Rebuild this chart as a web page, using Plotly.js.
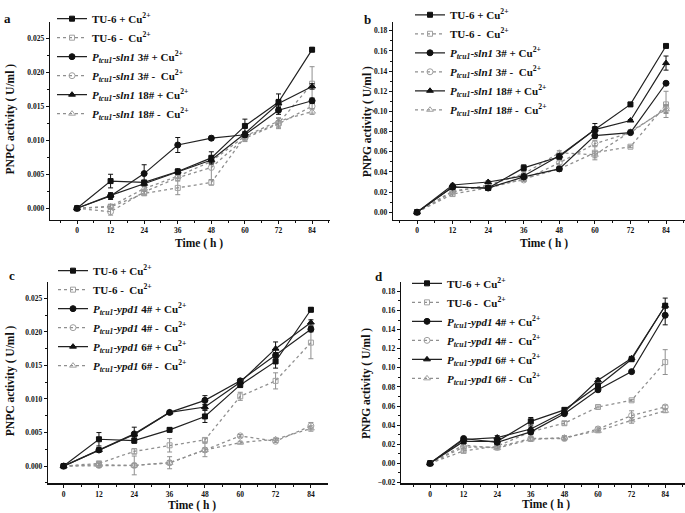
<!DOCTYPE html>
<html><head><meta charset="utf-8">
<script src="https://cdn.plot.ly/plotly-3.0.1.min.js"></script>
<style>html,body{margin:0;padding:0;background:#fff}#chart{width:685px;height:513px}</style>
</head><body><div id="chart"></div>
<script>
// ---------- data ----------
const hours = [0, 12, 24, 36, 48, 60, 72, 84];

const labelsSln1 = [
  "TU-6 + Cu<sup>2+</sup>",
  "TU-6 -  Cu<sup>2+</sup>",
  "<i>P</i><sub><i>tcu1</i></sub>-<i>sln1</i> 3# + Cu<sup>2+</sup>",
  "<i>P</i><sub><i>tcu1</i></sub>-<i>sln1</i> 3# -  Cu<sup>2+</sup>",
  "<i>P</i><sub><i>tcu1</i></sub>-<i>sln1</i> 18# + Cu<sup>2+</sup>",
  "<i>P</i><sub><i>tcu1</i></sub>-<i>sln1</i> 18# -  Cu<sup>2+</sup>"
];
const labelsYpd1 = [
  "TU-6 + Cu<sup>2+</sup>",
  "TU-6 -  Cu<sup>2+</sup>",
  "<i>P</i><sub><i>tcu1</i></sub>-<i>ypd1</i> 4# + Cu<sup>2+</sup>",
  "<i>P</i><sub><i>tcu1</i></sub>-<i>ypd1</i> 4# -  Cu<sup>2+</sup>",
  "<i>P</i><sub><i>tcu1</i></sub>-<i>ypd1</i> 6# + Cu<sup>2+</sup>",
  "<i>P</i><sub><i>tcu1</i></sub>-<i>ypd1</i> 6# -  Cu<sup>2+</sup>"
];

// panel a : PNPC, sln1
const aTu6Plus    = [0, 0.0040, 0.0038, 0.0054, 0.0074, 0.0121, 0.0156, 0.0233];
const aTu6PlusErr = [0, 0.0010, 0.0003, 0.0003, 0.0009, 0.0010, 0.0012, 0.0003];
const aTu6Minus    = [0, 0.0002, 0.0022, 0.0030, 0.0038, 0.0105, 0.0125, 0.0183];
const aTu6MinusErr = [0, 0.0003, 0.0003, 0.0010, 0.0004, 0.0006, 0.0008, 0.0025];
const a3Plus    = [0, 0.0018, 0.0051, 0.0093, 0.0103, 0.0108, 0.0144, 0.0158];
const a3PlusErr = [0, 0.0005, 0.0013, 0.0011, 0.0003, 0.0004, 0.0006, 0.0004];
const a3Minus    = [0, -0.0005, 0.0024, 0.0045, 0.0060, 0.0103, 0.0124, 0.0150];
const a3MinusErr = [0, 0.0005, 0.0003, 0.0004, 0.0018, 0.0005, 0.0005, 0.0004];
const a18Plus    = [0, 0.0019, 0.0036, 0.0054, 0.0071, 0.0110, 0.0154, 0.0179];
const a18PlusErr = [0, 0.0003, 0.0003, 0.0004, 0.0004, 0.0003, 0.0006, 0.0004];
const a18Minus    = [0, 0.0003, 0.0029, 0.0047, 0.0069, 0.0106, 0.0128, 0.0142];
const a18MinusErr = [0, 0.0003, 0.0003, 0.0003, 0.0003, 0.0004, 0.0004, 0.0004];

// panel b : PNPG, sln1
const bTu6Plus    = [0, 0.025, 0.024, 0.044, 0.055, 0.082, 0.107, 0.165];
const bTu6PlusErr = [0, 0.001, 0.001, 0.003, 0.002, 0.003, 0.002, 0.001];
const bTu6Minus    = [0, 0.018, 0.024, 0.033, 0.043, 0.059, 0.065, 0.107];
const bTu6MinusErr = [0, 0.002, 0.001, 0.002, 0.002, 0.007, 0.001, 0.013];
const b3Plus    = [0, 0.025, 0.024, 0.035, 0.043, 0.076, 0.079, 0.128];
const b3PlusErr = [0, 0.001, 0.001, 0.002, 0.002, 0.003, 0.001, 0.001];
const b3Minus    = [0, 0.021, 0.026, 0.032, 0.049, 0.068, 0.079, 0.103];
const b3MinusErr = [0, 0.002, 0.001, 0.001, 0.002, 0.003, 0.002, 0.004];
const b18Plus    = [0, 0.027, 0.030, 0.036, 0.056, 0.082, 0.091, 0.148];
const b18PlusErr = [0, 0.001, 0.001, 0.002, 0.002, 0.006, 0.001, 0.007];
const b18Minus    = [0, 0.020, 0.027, 0.038, 0.059, 0.057, 0.080, 0.102];
const b18MinusErr = [0, 0.002, 0.001, 0.002, 0.002, 0.003, 0.002, 0.004];

// panel c : PNPC, ypd1
const cTu6Plus    = [0, 0.0040, 0.0038, 0.0054, 0.0074, 0.0121, 0.0156, 0.0233];
const cTu6PlusErr = [0, 0.0010, 0.0004, 0.0003, 0.0009, 0.0004, 0.0010, 0.0003];
const cTu6Minus    = [0, 0.0004, 0.0022, 0.0031, 0.0039, 0.0104, 0.0127, 0.0184];
const cTu6MinusErr = [0, 0.0003, 0.0004, 0.0010, 0.0003, 0.0006, 0.0012, 0.0024];
const c4Plus    = [0, 0.0024, 0.0048, 0.0080, 0.0098, 0.0127, 0.0165, 0.0204];
const c4PlusErr = [0, 0.0003, 0.0010, 0.0002, 0.0007, 0.0003, 0.0004, 0.0004];
const c4Minus    = [0, 0.0001, 0.0001, 0.0005, 0.0024, 0.0045, 0.0037, 0.0060];
const c4MinusErr = [0, 0.0003, 0.0014, 0.0009, 0.0010, 0.0002, 0.0002, 0.0005];
const c6Plus    = [0, 0.0024, 0.0047, 0.0080, 0.0088, 0.0125, 0.0175, 0.0214];
const c6PlusErr = [0, 0.0003, 0.0003, 0.0002, 0.0004, 0.0003, 0.0010, 0.0004];
const c6Minus    = [0, 0.0002, 0.0001, 0.0005, 0.0024, 0.0035, 0.0040, 0.0056];
const c6MinusErr = [0, 0.0003, 0.0003, 0.0003, 0.0003, 0.0002, 0.0002, 0.0004];

// panel d : PNPG, ypd1
const dTu6Plus    = [0, 0.023, 0.023, 0.044, 0.056, 0.081, 0.109, 0.165];
const dTu6PlusErr = [0, 0.002, 0.002, 0.004, 0.002, 0.002, 0.002, 0.008];
const dTu6Minus    = [0, 0.013, 0.018, 0.033, 0.042, 0.059, 0.066, 0.106];
const dTu6MinusErr = [0, 0.002, 0.002, 0.002, 0.002, 0.001, 0.001, 0.013];
const d4Plus    = [0, 0.026, 0.022, 0.033, 0.052, 0.077, 0.096, 0.155];
const d4PlusErr = [0, 0.001, 0.002, 0.003, 0.001, 0.002, 0.001, 0.010];
const d4Minus    = [0, 0.017, 0.017, 0.026, 0.026, 0.036, 0.050, 0.059];
const d4MinusErr = [0, 0.004, 0.002, 0.002, 0.002, 0.002, 0.005, 0.002];
const d6Plus    = [0, 0.025, 0.027, 0.036, 0.054, 0.087, 0.110, 0.165];
const d6PlusErr = [0, 0.001, 0.002, 0.002, 0.002, 0.002, 0.002, 0.002];
const d6Minus    = [0, 0.019, 0.016, 0.025, 0.027, 0.034, 0.045, 0.055];
const d6MinusErr = [0, 0.003, 0.002, 0.002, 0.002, 0.002, 0.003, 0.002];

// ---------- styling ----------
const FONT = '"Liberation Serif", "Times New Roman", serif';
const W = 685, H = 513;
const px = v => v / W;
const py = v => 1 - v / H;

const styles = [
  {symbol: 'square',           size: 5, color: '#111', line: '#222', dash: 'solid', err: '#111'},
  {symbol: 'square-open',      size: 5, color: '#a0a0a0', line: '#8f8f8f', dash: 'dot', err: '#8f8f8f'},
  {symbol: 'circle',           size: 6, color: '#111', line: '#222', dash: 'solid', err: '#111'},
  {symbol: 'circle-open',      size: 6, color: '#a0a0a0', line: '#8f8f8f', dash: 'dot', err: '#8f8f8f'},
  {symbol: 'triangle-up',      size: 6, color: '#111', line: '#222', dash: 'solid', err: '#111'},
  {symbol: 'triangle-up-open', size: 6, color: '#a0a0a0', line: '#8f8f8f', dash: 'dot', err: '#8f8f8f'}
];

function mk(y, err, idx, label, xa, ya, leg) {
  const s = styles[idx];
  return {
    type: 'scatter', mode: 'lines+markers', x: hours, y: y, name: label,
    xaxis: xa, yaxis: ya, legend: leg, legendrank: idx + 1,
    line: {color: s.line, width: s.dash === 'solid' ? 1.2 : 1.3, dash: s.dash},
    marker: {symbol: s.symbol, size: s.size, color: s.color, line: {width: 1, color: s.color}},
    error_y: {type: 'data', array: err, visible: true, color: s.err, thickness: 1, width: 2.5},
    hoverinfo: 'x+y+name'
  };
}

function panel(series, labels, xa, ya, leg) {
  // draw dotted (minus) series underneath, solid (plus) series on top
  const order = [1, 3, 5, 0, 2, 4];
  return order.map(i => mk(series[i][0], series[i][1], i, labels[i], xa, ya, leg));
}

const traces = [].concat(
  panel([[aTu6Plus, aTu6PlusErr], [aTu6Minus, aTu6MinusErr], [a3Plus, a3PlusErr],
         [a3Minus, a3MinusErr], [a18Plus, a18PlusErr], [a18Minus, a18MinusErr]],
        labelsSln1, 'x', 'y', 'legend'),
  panel([[bTu6Plus, bTu6PlusErr], [bTu6Minus, bTu6MinusErr], [b3Plus, b3PlusErr],
         [b3Minus, b3MinusErr], [b18Plus, b18PlusErr], [b18Minus, b18MinusErr]],
        labelsSln1, 'x2', 'y2', 'legend2'),
  panel([[cTu6Plus, cTu6PlusErr], [cTu6Minus, cTu6MinusErr], [c4Plus, c4PlusErr],
         [c4Minus, c4MinusErr], [c6Plus, c6PlusErr], [c6Minus, c6MinusErr]],
        labelsYpd1, 'x3', 'y3', 'legend3'),
  panel([[dTu6Plus, dTu6PlusErr], [dTu6Minus, dTu6MinusErr], [d4Plus, d4PlusErr],
         [d4Minus, d4MinusErr], [d6Plus, d6PlusErr], [d6Minus, d6MinusErr]],
        labelsYpd1, 'x4', 'y4', 'legend4')
);

const tickFont = () => ({family: FONT, size: 7.5, color: '#111111', weight: 'bold'});

function xAxis(l, r, range, anchor) {
  return {
    domain: [px(l), px(r)], range: range, anchor: anchor,
    tickmode: 'linear', tick0: 0, dtick: 12,
    ticks: 'outside', ticklen: 3, tickwidth: 1, tickcolor: '#111',
    minor: {ticks: 'outside', dtick: 6, tick0: 0, ticklen: 2, tickwidth: 1, tickcolor: '#111', showgrid: false},
    showline: true, linecolor: '#111', linewidth: 1.3,
    showgrid: false, zeroline: false, tickfont: tickFont(), fixedrange: true
  };
}
function yAxis(t, b, range, dtick, fmt, anchor) {
  return {
    domain: [py(b), py(t)], range: range, anchor: anchor,
    tickmode: 'linear', tick0: 0, dtick: dtick, tickformat: fmt,
    ticks: 'outside', ticklen: 3, tickwidth: 1, tickcolor: '#111',
    minor: {ticks: 'outside', dtick: dtick / 2, tick0: 0, ticklen: 2, tickwidth: 1, tickcolor: '#111', showgrid: false},
    showline: true, linecolor: '#111', linewidth: 1.3,
    showgrid: false, zeroline: false, tickfont: tickFont(), fixedrange: true
  };
}
function legendCfg(l, t) {
  return {
    x: px(l), y: py(t), xanchor: 'left', yanchor: 'top',
    bgcolor: 'rgba(0,0,0,0)', borderwidth: 0, itemwidth: 30, tracegroupgap: 0,
    traceorder: 'normal',
    font: {family: FONT, size: 11, color: '#111', weight: 'bold'}
  };
}

function textAnn(txt, x, y, size, angle) {
  return {
    text: txt, xref: 'paper', yref: 'paper', x: px(x), y: py(y),
    xanchor: 'center', yanchor: 'middle', showarrow: false, textangle: angle || 0,
    font: {family: FONT, size: size, color: '#111', weight: 'bold'}
  };
}

const layout = {
  width: W, height: H,
  margin: {l: 0, r: 0, t: 0, b: 0},
  paper_bgcolor: '#fff', plot_bgcolor: 'rgba(0,0,0,0)',
  showlegend: true,
  xaxis:  xAxis(50, 330, [-9.65, 90.4], 'y'),
  yaxis:  yAxis(10, 213, [-0.00172, 0.0274], 0.005, '.3f', 'x'),
  xaxis2: xAxis(393, 685, [-8.1, 90.4], 'y2'),
  yaxis2: yAxis(10, 213, [-0.00775, 0.189], 0.02, '.2f', 'x2'),
  xaxis3: xAxis(48, 328, [-5.3, 89.8], 'y3'),
  yaxis3: yAxis(276.7, 482.7, [-0.00258, 0.0274], 0.005, '.3f', 'x3'),
  xaxis4: xAxis(401, 685, [-10.36, 91.07], 'y4'),
  yaxis4: yAxis(276.7, 482.7, [-0.021, 0.1896], 0.02, '.2f', 'x4'),
  legend:  legendCfg(52, -8),
  legend2: legendCfg(410, -12),
  legend3: legendCfg(53, 250),
  legend4: legendCfg(407, 263),
  annotations: [
    textAnn('a', 7, 7, 13), textAnn('b', 367, 8, 13),
    textAnn('c', 12, 270, 13), textAnn('d', 379, 271, 13),
    textAnn('PNPC activity ( U/ml )', 10, 110, 11.5, -90),
    textAnn('PNPG activity ( U/ml )', 367, 113, 11.5, -90),
    textAnn('PNPC activity ( U/ml )', 10, 378, 11.5, -90),
    textAnn('PNPG activity ( U/ml )', 366, 380, 11.5, -90),
    textAnn('Time ( h )', 199, 237, 11.5), textAnn('Time ( h )', 544, 237, 11.5),
    textAnn('Time ( h )', 192, 505, 11.5), textAnn('Time ( h )', 546, 504, 11.5)
  ]
};

Plotly.newPlot('chart', traces, layout, {displayModeBar: false, staticPlot: true});
</script>
</body></html>
